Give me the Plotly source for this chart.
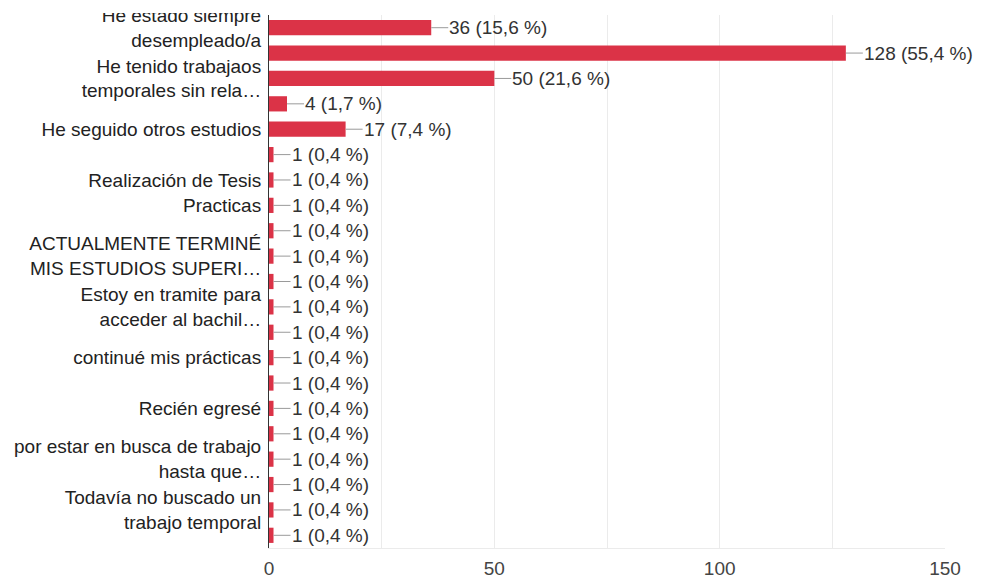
import plotly.graph_objects as go

# ---- data ----
values = [36, 128, 50, 4, 17, 1, 1, 1, 1, 1, 1, 1, 1, 1, 1, 1, 1, 1, 1, 1, 1]
percents = ["15,6", "55,4", "21,6", "1,7", "7,4", "0,4", "0,4", "0,4", "0,4", "0,4",
            "0,4", "0,4", "0,4", "0,4", "0,4", "0,4", "0,4", "0,4", "0,4", "0,4", "0,4"]
# axis labels as shown (empty = label hidden in the original chart)
labels = [
    "He estado siempre<br>desempleado/a",
    "",
    "He tenido trabajaos<br>temporales sin rela…",
    "",
    "He seguido otros estudios",
    "",
    "Realización de Tesis",
    "Practicas",
    "",
    "ACTUALMENTE TERMINÉ<br>MIS ESTUDIOS SUPERI…",
    "",
    "Estoy en tramite para<br>acceder al bachil…",
    "",
    "continué mis prácticas",
    "",
    "Recién egresé",
    "",
    "por estar en busca de trabajo<br>hasta que…",
    "",
    "Todavía no buscado un<br>trabajo temporal",
    "",
]
x_ticks = [0, 50, 100, 150]

FONT = "Liberation Sans, Arial, sans-serif"
positions = list(range(len(values)))

fig = go.Figure()
fig.add_trace(go.Bar(
    x=values, y=positions, orientation="h",
    marker=dict(color="#DB3347", line=dict(width=0)),
    width=0.6, hoverinfo="skip",
))

for p, v, pc in zip(positions, values, percents):
    fig.add_annotation(
        x=v, y=p, xref="x", yref="y",
        text=f"{v} ({pc} %)",
        showarrow=True, arrowhead=0, arrowwidth=1, arrowcolor="#9a9a9a",
        ax=17, ay=0, xanchor="left", yanchor="middle",
        borderpad=0,
        font=dict(family=FONT, size=19, color="#333333"),
    )

tv = [p for p, l in zip(positions, labels) if l]
tt = [l for l in labels if l]

fig.update_layout(
    width=983, height=581,
    margin=dict(l=269, r=38, t=15, b=33, autoexpand=False),
    plot_bgcolor="white", paper_bgcolor="white",
    showlegend=False,
    font=dict(family=FONT, size=19, color="#222222"),
    xaxis=dict(
        range=[0, 150], tickvals=x_ticks, ticktext=[str(t) for t in x_ticks],
        showgrid=True, gridcolor="#ebebeb", gridwidth=1,
        minor=dict(dtick=25, tick0=0, showgrid=True, gridcolor="#ebebeb", gridwidth=1),
        zeroline=False, showline=True, linecolor="#ebebeb", linewidth=1,
        ticks="", ticklabelstandoff=3, automargin=False,
        tickfont=dict(family=FONT, size=19, color="#444444"),
        fixedrange=True,
    ),
    yaxis=dict(
        range=[20.5, -0.5], tickvals=tv, ticktext=tt,
        showgrid=False, zeroline=False,
        showline=True, linecolor="#333333", linewidth=1,
        ticks="", ticklabelstandoff=3, automargin=False,
        tickfont=dict(family=FONT, size=19, color="#222222"),
        fixedrange=True,
    ),
    shapes=[dict(
        type="rect", xref="paper", yref="paper", layer="above",
        x0=-0.42, x1=-0.004, y0=1.0038, y1=1.04,
        fillcolor="white", line=dict(width=0),
    )],
)

fig.write_html(
    "out.html",
    config={"displayModeBar": False},
    post_script="document.body.style.margin='0';document.body.style.overflow='hidden';",
)
